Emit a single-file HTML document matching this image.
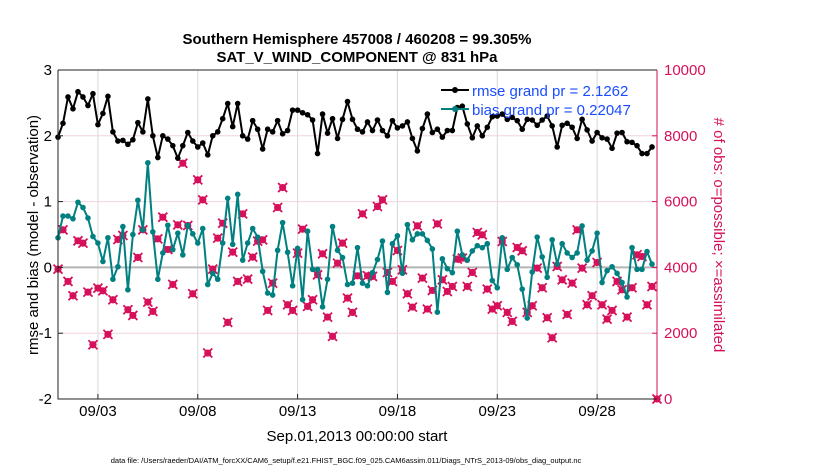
<!DOCTYPE html>
<html><head><meta charset="utf-8"><style>
html,body{margin:0;padding:0;background:#fff;}
svg{display:block;font-family:"Liberation Sans",Arial,sans-serif;}
</style></head><body>
<svg id="chart" width="830" height="470" viewBox="0 0 830 470" xmlns="http://www.w3.org/2000/svg">
<rect width="830" height="470" fill="#fff"/>
<text x="357" y="44" text-anchor="middle" font-size="15" font-weight="bold">Southern Hemisphere 457008 / 460208 = 99.305%</text>
<text x="357" y="62" text-anchor="middle" font-size="15" font-weight="bold">SAT_V_WIND_COMPONENT @ 831 hPa</text>
<g id="grid"></g>
<g id="marks"></g>
<g id="axes"></g>
<text transform="translate(38,235) rotate(-90)" text-anchor="middle" font-size="15">rmse and bias (model - observation)</text>
<text transform="translate(714,235) rotate(90)" text-anchor="middle" font-size="15" fill="#d6105a">#  of obs: o=possible; ×=assimilated</text>
<text x="357" y="441" text-anchor="middle" font-size="15">Sep.01,2013 00:00:00 start</text>
<text x="346" y="463" text-anchor="middle" font-size="7.5">data file: /Users/raeder/DAI/ATM_forcXX/CAM6_setup/f.e21.FHIST_BGC.f09_025.CAM6assim.011/Diags_NTrS_2013-09/obs_diag_output.nc</text>
<g id="legend">
<line x1="441" y1="90" x2="469" y2="90" stroke="#000" stroke-width="2"/>
<circle cx="455" cy="90" r="3" fill="#000"/>
<text x="472" y="96" font-size="15" fill="#1a4dff">rmse grand pr = 2.1262</text>
<line x1="441" y1="109" x2="469" y2="109" stroke="#008080" stroke-width="2"/>
<circle cx="455" cy="109" r="3" fill="#008080"/>
<text x="472" y="115" font-size="15" fill="#1a4dff">bias grand pr = 0.22047</text>
</g>
</svg>
<script>
const rmse = [1.98,2.19,2.59,2.41,2.67,2.59,2.46,2.64,2.17,2.34,2.60,2.06,1.92,1.93,1.87,1.94,2.20,2.06,2.56,2.00,1.67,2.00,1.95,1.85,1.66,1.85,2.05,1.92,1.83,1.89,1.71,2.00,2.06,2.26,2.49,2.14,2.49,2.00,1.95,2.23,2.10,
1.80,2.10,2.06,2.23,2.03,2.08,2.39,2.39,2.35,2.32,2.24,1.73,2.33,2.04,2.26,1.96,2.25,2.52,2.25,2.10,2.06,2.21,2.08,2.24,2.08,2.00,2.23,2.12,2.15,2.21,1.96,1.77,2.11,2.33,2.05,2.10,1.98,2.08,2.08,2.43,
2.45,2.18,1.97,2.15,2.00,2.13,2.29,2.30,2.33,2.25,2.28,2.23,2.10,2.25,2.24,2.16,2.24,2.30,2.15,1.83,2.16,2.19,2.13,1.96,2.25,2.09,1.92,2.05,1.97,1.95,1.81,2.04,2.05,1.91,1.90,1.85,1.73,1.73,1.83];
const bias = [0.45,0.78,0.78,0.74,0.99,0.91,0.75,0.47,0.37,0.09,0.45,-0.18,0.01,0.62,-0.34,0.50,1.02,0.57,1.59,0.54,-0.18,0.22,0.64,0.27,0.52,0.19,0.64,0.51,0.37,0.59,-0.26,-0.09,-0.18,0.37,1.05,0.35,1.11,0.11,0.37,0.59,0.46,
-0.06,-0.39,-0.42,0.26,0.68,0.23,-0.28,0.29,-0.49,0.55,-0.03,-0.03,-0.60,-0.18,0.62,0.26,0.15,-0.26,-0.24,0.30,-0.24,-0.28,-0.08,0.12,0.40,-0.38,0.36,0.48,-0.09,0.65,0.42,0.51,0.51,0.41,0.28,-0.68,0.13,-0.02,-0.08,0.55,
0.19,0.11,0.25,0.33,0.30,0.36,-0.20,-0.31,0.45,-0.03,0.15,0.04,-0.33,-0.77,-0.07,0.46,0.16,-0.15,0.42,0.05,0.36,0.22,0.15,0.22,0.63,0.11,0.25,0.52,-0.23,-0.05,0.01,-0.09,-0.23,-0.45,0.30,-0.03,-0.03,0.24,0.05];
const obsCount = [3947,5142,3573,3138,4808,4737,3249,1650,3370,3289,1964,3016,4848,4970,2713,2540,4302,5142,2945,2662,4868,5526,4545,3482,5293,7166,5273,3198,6660,6053,1397,3947,4889,5344,2328,4464,3573,5628,3644,4312,4798,
4838,2692,3522,5820,6427,2864,2692,4433,5162,2814,3016,3775,4413,2490,1903,4130,4737,3067,2632,3745,5628,3745,3725,5850,6053,3846,3573,4514,3927,3198,2794,5263,3674,2733,3300,5324,3623,3269,3421,4251,
4281,3421,3846,5061,4990,3340,2733,2834,4788,2632,2358,4605,4504,2632,2834,3978,3381,2470,1862,4028,3623,2571,3522,5142,3978,2864,3138,4150,2864,2429,2692,3573,3320,2490,3381,4383,4332,2864,3421,0];
const leftTicks = [3,2,1,0,-1,-2];
const rightTicks = [10000,8000,6000,4000,2000,0];
const dateTicks = [2,7,12,17,22,27];
const dateLabels = ["09/03","09/08","09/13","09/18","09/23","09/28"];
const stepDays = 0.25;

const X0=58,X1=657,Y0=70,Y1=399;
const xs = t => X0 + t*(X1-X0)/30;
const yL = v => Y1 - (v+2)*(Y1-Y0)/5;
const yR = v => Y1 - v*(Y1-Y0)/10000;
const NS="http://www.w3.org/2000/svg";
function mk(tag, attrs, parent){const e=document.createElementNS(NS,tag);for(const k in attrs)e.setAttribute(k,attrs[k]);parent.appendChild(e);return e;}
const grid=document.getElementById('grid'), marks=document.getElementById('marks'), axes=document.getElementById('axes');

dateTicks.forEach((d,i)=>{
  const x=xs(d);
  const g=mk('line',{x1:x,y1:Y0,x2:x,y2:Y1,stroke:'#d8d8d8','stroke-width':1},grid);
  
  
  mk('line',{x1:x,y1:Y1,x2:x,y2:Y1-5,stroke:'#222'},axes);
  const t=mk('text',{x:x,y:416,'text-anchor':'middle','font-size':15},axes);
  t.textContent=dateLabels[i];
  
  
});
leftTicks.forEach(v=>{
  const y=yL(v);
  if(v!==3&&v!==-2&&v!==0){const g=mk('line',{x1:X0,y1:y,x2:X1,y2:y,stroke:'#f0d4e0','stroke-width':1},grid);
    
    }
  mk('line',{x1:X0,y1:y,x2:X0+5,y2:y,stroke:'#222'},axes);
  const t=mk('text',{x:52,y:y+5,'text-anchor':'end','font-size':15},axes);
  t.textContent=v;
  
  
});
rightTicks.forEach(v=>{
  const y=yR(v);
  mk('line',{x1:X1,y1:y,x2:X1-5,y2:y,stroke:'#d6105a'},axes);
  const t=mk('text',{x:664,y:y+5,'font-size':15,fill:'#d6105a'},axes);
  t.textContent=v;
  
  
});
const zl=mk('line',{x1:X0,y1:yL(0),x2:X1,y2:yL(0),stroke:'#b4b4b4','stroke-width':2},grid);



obsCount.forEach((c,i)=>{
  const x = i===obsCount.length-1 ? X1 : xs(i*stepDays), y=yR(c);
  const g=mk('g',{},marks);
  
  
  mk('circle',{cx:x,cy:y,r:3.6,fill:'#d6105a'},g);
  mk('path',{d:`M${x-4.5} ${y-4.5}L${x+4.5} ${y+4.5}M${x-4.5} ${y+4.5}L${x+4.5} ${y-4.5}`,stroke:'#d6105a','stroke-width':1.8},g);
});
function series(arr,color,name){
  const pts=arr.map((v,i)=>xs(i*stepDays).toFixed(1)+','+yL(v).toFixed(1)).join(' ');
  const pl=mk('polyline',{points:pts,fill:'none',stroke:color,'stroke-width':2,'stroke-linejoin':'round'},marks);
  
  
  arr.forEach((v,i)=>{
    const c=mk('circle',{cx:xs(i*stepDays),cy:yL(v),r:2.8,fill:color},marks);
    
    
  });
}
series(bias,'#008080','bias');
series(rmse,'#000000','rmse');

const fr=mk('path',{d:`M${X0} ${Y0}H${X1}M${X0} ${Y0}V${Y1}H${X1}`,fill:'none',stroke:'#222','stroke-width':1},axes);


const ra=mk('line',{x1:X1,y1:Y0,x2:X1,y2:Y1,stroke:'#d6105a','stroke-width':1},axes);


</script>
</body></html>
